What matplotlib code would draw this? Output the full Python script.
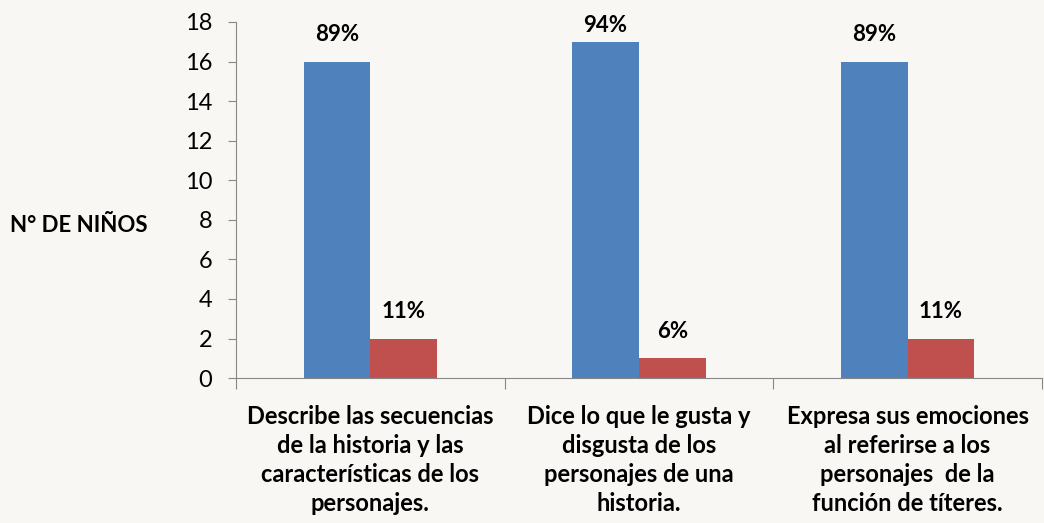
import numpy as np
import matplotlib.pyplot as plt

categories = [
    "Describe las secuencias\nde la historia y las\ncaracterísticas de los\npersonajes.",
    "Dice lo que le gusta y\ndisgusta de los\npersonajes de una\nhistoria.",
    "Expresa sus emociones\nal referirse a los\npersonajes  de la\nfunción de títeres.",
]
si_values = [16, 17, 16]
no_values = [2, 1, 2]
si_labels = ["89%", "94%", "89%"]
no_labels = ["11%", "6%", "11%"]
yticks = [0, 2, 4, 6, 8, 10, 12, 14, 16, 18]

plt.rcParams["font.family"] = ["Lato", "DejaVu Sans"]

fig = plt.figure(figsize=(10.44, 5.23), dpi=100)
fig.patch.set_facecolor("#f9f7f4")
ax = fig.add_axes([0.226, 0.277, 0.772, 0.681])
ax.set_facecolor("none")

x = np.arange(len(categories))
w = 0.248
b1 = ax.bar(x - w / 2, si_values, w, color="#4f81bd")
b2 = ax.bar(x + w / 2, no_values, w, color="#c0504d")

# labels sit above the bars, kept inside the plot area like excel does
for bars, labs in [(b1, si_labels), (b2, no_labels)]:
    for rect, lab in zip(bars, labs):
        y = min(rect.get_height() + 1.37, 17.83)
        ax.text(rect.get_x() + rect.get_width() / 2, y, lab,
                ha="center", va="center", fontsize=16, fontweight="bold")

ax.set_xlim(-0.5, 2.5)
ax.set_ylim(0, 18)
ax.set_yticks(yticks)
ax.tick_params(axis="y", labelsize=17, length=6, color="#888888", pad=11)

ax.set_xticks([-0.5, 0.5, 1.5, 2.5])
ax.set_xticklabels([])
ax.tick_params(axis="x", which="major", length=8, color="#888888")
ax.set_xticks(x, minor=True)
ax.set_xticklabels(categories, minor=True, fontsize=17, fontweight="bold",
                   linespacing=1.32)
ax.tick_params(axis="x", which="minor", length=0, pad=19)

for s in ["top", "right"]:
    ax.spines[s].set_visible(False)
for s in ["left", "bottom"]:
    ax.spines[s].set_color("#888888")

fig.text(0.01, 0.569, "N° DE NIÑOS", fontsize=16, fontweight="bold",
         ha="left", va="center")

fig.savefig("out.png", dpi=100, facecolor=fig.get_facecolor())
